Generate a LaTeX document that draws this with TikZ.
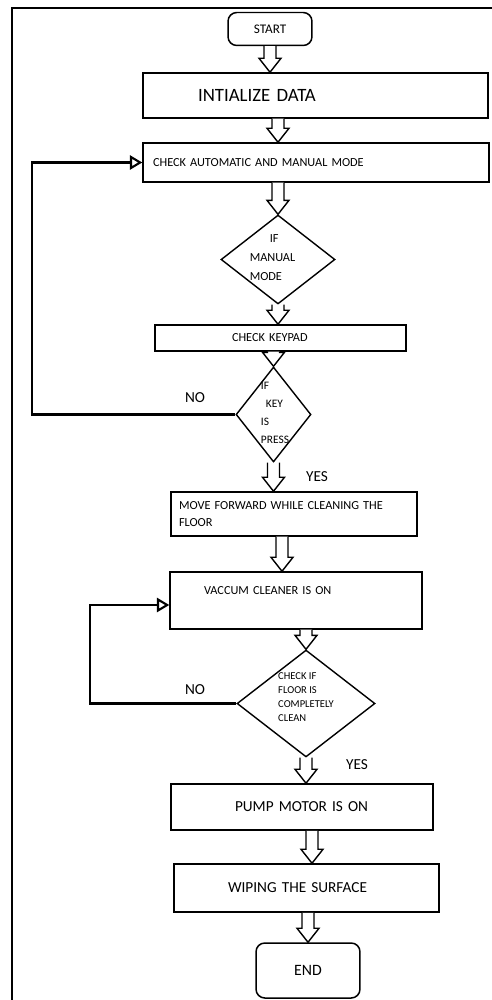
\documentclass[tikz,border=0pt]{standalone}
\usepackage{fontspec}
\setmainfont{Carlito}
\usetikzlibrary{shapes.geometric,arrows.meta,calc}

\tikzset{
  stepbox/.style={draw, line width=0.85pt, align=left, inner ysep=0pt, font=\fontsize{7}{9.6}\selectfont},
  endbox/.style={draw, line width=0.85pt, rounded corners=5pt, inner sep=0pt},
  decide/.style={draw, diamond, aspect=1, line width=0.8pt, inner sep=0pt},
  loopline/.style={line width=1.6pt},
  looptip/.style={-{Triangle[open, length=7pt, width=8pt, line width=1.2pt]}},
  flowarr/.style={draw, line width=0.8pt, fill=white},
  yesno/.style={font=\fontsize{8.7}{10}\selectfont},
}

\newcommand{\flowarrow}[2]{%
  \path[flowarr] let \p1=#1, \p2=#2 in
    (\x1-0.12cm,\y1) -- (\x1-0.12cm,\y2+0.28cm) -- (\x1-0.22cm,\y2+0.28cm) -- (\x1,\y2)
    -- (\x1+0.22cm,\y2+0.28cm) -- (\x1+0.12cm,\y2+0.28cm) -- (\x1+0.12cm,\y1);}

\begin{document}
\begin{tikzpicture}[x=0.02cm, y=-0.02cm]
\useasboundingbox (0,0) rectangle (492,1000);
\draw[line width=1.3pt] (492,8) -- (12,8) -- (12,1000);

\node[endbox, minimum width=1.68cm, minimum height=0.66cm, font=\fontsize{7.5}{9}\selectfont] (start) at (270,29) {START};
\node[stepbox, minimum height=0.9cm, text width=4.7cm, inner xsep=1.1cm, font=\fontsize{10.7}{12}\selectfont] (init) at (315.5,95.5) {INTIALIZE DATA};
\node[stepbox, minimum height=0.78cm, text width=6.52cm, inner xsep=0.2cm] (mode) at (316,162.5) {CHECK AUTOMATIC AND MANUAL MODE};
\node[decide, minimum width=2.28cm, minimum height=1.78cm,
      label={[align=left, font=\fontsize{7}{10.8}\selectfont, xshift=-0.11cm, yshift=0.04cm]center:\hspace*{0.4cm}IF\\MANUAL\\MODE}] (manual) at (278,259.5) {};
\node[stepbox, minimum height=0.52cm, text width=1.94cm, inner xsep=1.54cm] (keypad) at (280.5,338) {CHECK KEYPAD};
\node[decide, minimum width=1.5cm, minimum height=1.9cm,
      label={[align=left, font=\fontsize{6.5}{10.2}\selectfont, xshift=0.03cm, yshift=0.03cm]center:IF\\\hspace*{0.1cm}KEY\\IS\\PRESS}] (press) at (273.5,414.5) {};
\node[stepbox, minimum height=0.88cm, text width=4.6cm, inner xsep=0.16cm] (forward) at (294,514) {MOVE FORWARD WHILE CLEANING THE\\FLOOR};
\node[stepbox, minimum height=1.14cm, text width=3.68cm, inner xsep=0.68cm, text height=0.15cm, text depth=0.41cm] (vacuum) at (296,600.5) {VACCUM CLEANER IS ON};
\node[decide, minimum width=2.76cm, minimum height=2.14cm,
      label={[align=left, font=\fontsize{6}{7.9}\selectfont, yshift=0.13cm]center:CHECK IF\\FLOOR IS\\COMPLETELY\\CLEAN}] (clean) at (306,703.5) {};
\node[stepbox, minimum height=0.92cm, text width=2.68cm, inner xsep=1.28cm, font=\fontsize{8.7}{10}\selectfont] (pump) at (302,807) {PUMP MOTOR IS ON};
\node[stepbox, minimum height=0.96cm, text width=3.14cm, inner xsep=1.08cm, font=\fontsize{8.7}{10}\selectfont] (wipe) at (306.5,888) {WIPING THE SURFACE};
\node[endbox, minimum width=2.08cm, minimum height=1.1cm, font=\fontsize{9}{10}\selectfont] (finish) at (308,970.5) {END};

\coordinate (forwardout) at ([xshift=-0.24cm]forward.south);
\coordinate (pumpout) at ([xshift=0.2cm]pump.south);

\flowarrow{(start.south)}{(start.south |- init.north)}
\flowarrow{(manual.north |- init.south)}{(manual.north |- mode.north)}
\flowarrow{(manual.north |- mode.south)}{(manual.north)}
\flowarrow{(manual.south)}{(manual.south |- keypad.north)}
\flowarrow{(press.north |- keypad.south)}{(press.north)}
\flowarrow{(press.south)}{(press.south |- forward.north)}
\flowarrow{(forwardout)}{(forwardout |- vacuum.north)}
\flowarrow{(clean.north |- vacuum.south)}{(clean.north)}
\flowarrow{(clean.south)}{(clean.south |- pump.north)}
\flowarrow{(pumpout)}{(pumpout |- wipe.north)}
\flowarrow{(finish.north |- wipe.south)}{(finish.north)}

\coordinate (keyloop) at (32,300);
\coordinate (vacloop) at (90,650);
\draw[loopline, looptip] (press.west) -| (keyloop) |- (mode.west);
\draw[loopline, looptip] (clean.west) -| (vacloop) |- ([yshift=-0.09cm]vacuum.west);

\node[yesno] (no1) at (195,398) {NO};
\node[yesno] (yes1) at (317,477) {YES};
\node[yesno] (no2) at (195,690) {NO};
\node[yesno] (yes2) at (357,765) {YES};
\end{tikzpicture}
\end{document}
